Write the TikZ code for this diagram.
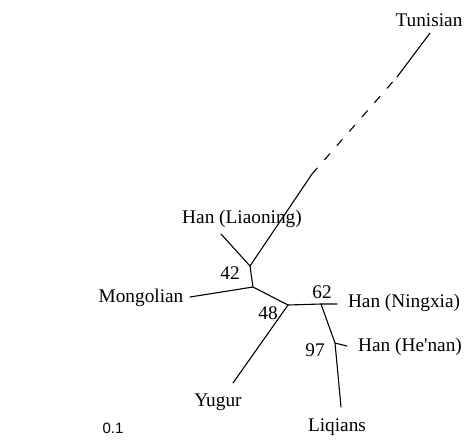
\documentclass[tikz,border=0pt]{standalone}
\usepackage{fontspec}
\setmainfont{Liberation Serif}
\newfontfamily\barfont{Liberation Sans}
\begin{document}
\begin{tikzpicture}[x=1pt,y=-1pt,
  tree/.style={line width=1.1pt,line cap=round},
  lab/.style={font=\fontsize{19.3}{22}\selectfont,inner sep=0pt}]
\useasboundingbox (0,0) rectangle (465,442);
% internal nodes and tips
\coordinate (A) at (250,266); \coordinate (B) at (253,287); \coordinate (C) at (288,305);
\coordinate (D) at (321,304); \coordinate (E) at (335,343);
\coordinate (tTun) at (430,33); \coordinate (d1) at (312,174); \coordinate (d2) at (397,77);
\coordinate (tLia) at (221,234); \coordinate (tMon) at (190,297); \coordinate (tYug) at (233,383);
\coordinate (tNin) at (337,304); \coordinate (tHen) at (347,346); \coordinate (tLiq) at (341,407);
% branches
\draw[tree] (A)--(d1); \draw[tree,dash pattern=on 8pt off 11pt] (d1)--(d2); \draw[tree] (d2)--(tTun);
\draw[tree] (tLia)--(A)--(B)--(C)--(D)--(tNin);
\draw[tree] (tMon)--(B); \draw[tree] (C)--(tYug);
\draw[tree] (D)--(E)--(tLiq); \draw[tree] (E)--(tHen);
% labels
\node[lab] (Tun) at (429,20) {Tunisian};
\node[lab] (Lia) at (242,219) {Han (Liaoning)};
\node[lab] (Mon) at (141,298) {Mongolian};
\node[lab] (Nin) at (404,303) {Han (Ningxia)};
\node[lab] (Hen) at (410,347) {Han (He\textquotesingle nan)};
\node[lab] (Yug) at (218,402) {Yugur};
\node[lab] (Liq) at (337,427) {Liqians};
\node[lab] (b42) at (230,273) {42};
\node[lab] (b48) at (268,313) {48};
\node[lab] (b62) at (322,292) {62};
\node[lab] (b97) at (315,350) {97};
\node[font=\barfont\fontsize{15}{17}\selectfont,inner sep=0pt] (bar) at (113,428) {0.1};
\end{tikzpicture}
\end{document}
